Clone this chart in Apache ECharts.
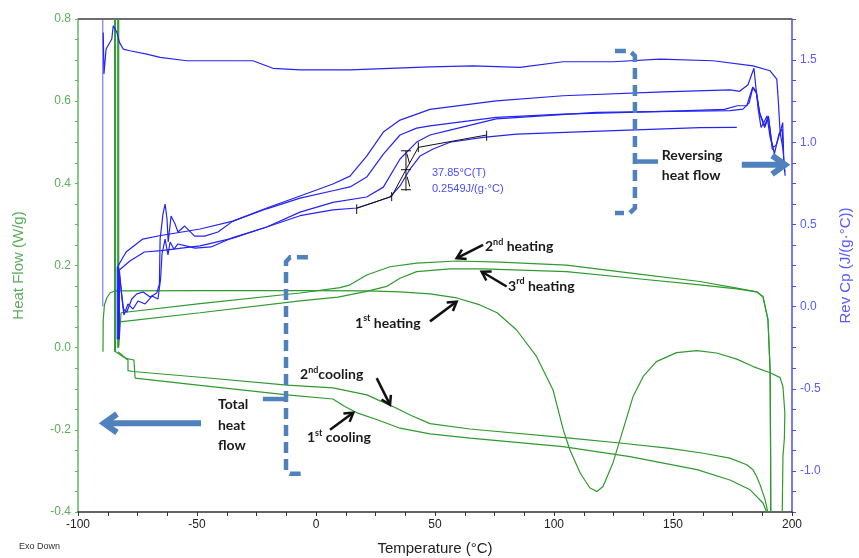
<!DOCTYPE html>
<html><head><meta charset="utf-8">
<script src="https://cdn.jsdelivr.net/npm/echarts@6/dist/echarts.min.js"></script>
<style>html,body{margin:0;padding:0;background:#fff;overflow:hidden}#c{width:859px;height:558px}</style>
</head><body><div id="c"></div>
<script>
// ---------- Heat flow (W/g), left axis: [temperature °C, value] ----------
const HF_1ST_HEATING = [[-89.5,-0.010],[-89.4,0.068],[-88.9,0.104],[-87.9,0.121],[-86.6,0.133],[-84.5,0.138],[-48.7,0.139],[-6.7,0.139],[21.8,0.138],[35.3,0.136],[47.9,0.131],[59.2,0.121],[68.9,0.104],[76.1,0.085],[84.3,0.043],[92.7,-0.022],[99.6,-0.103],[103.9,-0.2],[106.7,-0.249],[111,-0.305],[115,-0.341],[118,-0.350],[120.6,-0.338],[124.8,-0.280],[129,-0.2],[133.2,-0.119],[137.5,-0.070],[143,-0.034],[151.5,-0.012],[160,-0.007],[168.3,-0.013],[176.8,-0.028],[183.7,-0.046],[190.8,-0.061],[195,-0.073],[196.2,-0.095],[197,-0.159],[196.8,-0.22],[196.2,-0.265],[195.9,-0.402],[195.9,-0.45]];
const HF_2ND_HEATING = [[-84.6,-0.010],[-84.6,0.95],[-82.9,0.95],[-82.9,0.0],[-81.9,0.085],[-48.7,0.107],[-6.7,0.133],[10.1,0.146],[14.3,0.153],[21.3,0.177],[31.1,0.197],[42.3,0.206],[59.1,0.211],[77.3,0.208],[105.3,0.201],[133.2,0.181],[161.3,0.161],[176.8,0.145],[185.2,0.136],[187.8,0.124],[189.9,0.068],[190.8,-0.054],[191,-0.249],[191.1,-0.45]];
const HF_3RD_HEATING = [[-84.3,-0.010],[-84.3,0.95],[-83.3,0.95],[-83.3,0.0],[-82.4,0.063],[-48.7,0.085],[-6.7,0.114],[9.2,0.123],[21.3,0.137],[29.7,0.149],[35.3,0.169],[42.3,0.185],[56.3,0.192],[70.2,0.192],[105.3,0.185],[133.2,0.169],[161.3,0.153],[176.8,0.143],[185.2,0.136],[187.8,0.124],[189.9,0.068],[190.8,-0.054],[191,-0.249],[191.1,-0.45]];
const HF_1ST_COOLING = [[189.7,-0.45],[189.5,-0.402],[187.8,-0.378],[182.4,-0.346],[173.9,-0.322],[160.1,-0.297],[131.9,-0.265],[103.8,-0.241],[64.7,-0.220],[47.9,-0.210],[35.3,-0.196],[26,-0.176],[17,-0.158],[12.1,-0.143],[7.1,-0.125],[-12.2,-0.115],[-48.7,-0.092],[-76,-0.074],[-76.5,-0.030],[-76.9,-0.028],[-79.8,-0.026],[-83.2,-0.010]];
const HF_2ND_COOLING = [[190.1,-0.45],[189.9,-0.402],[188.7,-0.370],[186.6,-0.334],[185.2,-0.314],[183.6,-0.297],[181,-0.285],[173.9,-0.269],[162.7,-0.257],[148.7,-0.245],[127.7,-0.232],[106.7,-0.220],[64.7,-0.198],[47.9,-0.185],[40,-0.165],[33,-0.145],[26,-0.127],[21.4,-0.115],[7.1,-0.098],[-12.2,-0.091],[-48.7,-0.072],[-76.9,-0.058],[-79,-0.056],[-79,-0.030],[-79.8,-0.026],[-84.5,-0.009]];

// ---------- Rev Cp (J/(g·°C)), right axis ----------
const CP_1ST_START = [[-89.6,0.0],[-89.6,1.8]];
const CP_1ST_HEATING = [[-89.4,1.668],[-89.1,1.415],[-88.2,1.567],[-87.4,1.579],[-85.8,1.628],[-85.2,1.709],[-84.5,1.719],[-83.7,1.670],[-82.6,1.608],[-81.0,1.567],[-78.2,1.557],[-71.1,1.536],[-65.5,1.516],[-54.3,1.496],[-26.5,1.496],[-18.1,1.450],[-6.7,1.441],[14.3,1.441],[47.9,1.459],[66,1.465],[85.7,1.456],[103.8,1.490],[124.8,1.490],[144.5,1.506],[166.8,1.496],[183.6,1.465],[190.8,1.435],[193.6,1.384],[194.2,1.263],[195,1.062],[196.2,0.959],[197.1,0.796]];
const CP_HEATING_A = [[-83,-0.197],[-83,0.241],[-81.9,0.107],[-80.9,-0.015],[-79.5,-0.033],[-77.4,0.046],[-75.3,0.077],[-72.6,0.089],[-69.7,0.058],[-66.9,0.083],[-65.8,0.137],[-65.5,0.411],[-64.3,0.563],[-63.4,0.624],[-62.6,0.533],[-62.1,0.393],[-60.9,0.551],[-59.2,0.502],[-58,0.454],[-55.2,0.49],[-51,0.429],[-46.8,0.429],[-41.2,0.454],[-34.9,0.52],[-20.7,0.60],[-6.7,0.673],[7.1,0.746],[14.3,0.794],[21.3,0.916],[28.3,1.062],[35.3,1.135],[47.9,1.20],[75.7,1.252],[103.8,1.283],[145.8,1.307],[174,1.319],[178,1.31],[181.5,1.35],[184,1.45],[184.6,1.45],[185.8,1.2],[187,1.09],[188.5,1.13],[189.5,1.16],[190.8,1.03],[192,0.97],[193.3,0.98],[195,1.06],[196.1,1.12],[196.6,0.86],[197,0.82]];
const CP_COOLING_A = [[-83.5,-0.2],[-83.5,0.239],[-79.8,0.332],[-72.8,0.411],[-65.8,0.431],[-48.7,0.472],[-34.9,0.52],[-20.7,0.595],[-6.7,0.66],[7.1,0.705],[14.3,0.728],[21.3,0.788],[28.3,0.928],[35.3,1.044],[42.3,1.086],[47.9,1.10],[75.7,1.151],[103.8,1.171],[150,1.19],[171.6,1.20],[177,1.222],[181,1.222],[183.5,1.336],[185,1.31],[186.4,1.18],[188.5,1.10],[190.1,1.16],[191.7,0.96],[192.5,0.95]];
const CP_HEATING_B = [[-82.6,-0.197],[-82.6,0.217],[-81.5,0.046],[-80.7,-0.051],[-79,0.016],[-76.9,-0.015],[-74.8,0.034],[-71.8,0.016],[-68.9,0.064],[-66.4,0.046],[-65.3,0.168],[-64.7,0.32],[-63.4,0.411],[-62.2,0.314],[-61.3,0.393],[-59.7,0.35],[-58,0.381],[-54.6,0.369],[-50.8,0.356],[-44.1,0.363],[-34.9,0.42],[-20.7,0.484],[-6.7,0.575],[7.1,0.634],[21.3,0.667],[28.3,0.727],[35.3,0.898],[42.3,1.001],[47.9,1.044],[56.3,1.074],[75.7,1.142],[117.8,1.182],[174,1.192],[179.4,1.202],[182,1.24],[183.5,1.33],[185,1.30],[186.5,1.17],[188.5,1.09],[190.1,1.15],[191.5,1.0],[192.6,0.93],[194.5,1.05],[195.8,1.08],[196.4,0.95]];
const CP_COOLING_B = [[-83,-0.2],[-83,0.218],[-78.2,0.277],[-72.1,0.332],[-65.1,0.34],[-48.7,0.369],[-34.9,0.417],[-20.7,0.484],[-6.7,0.553],[7.1,0.588],[17.1,0.60],[24,0.632],[31.1,0.667],[35.3,0.734],[39.5,0.837],[43.7,0.916],[49.2,0.959],[56.3,1.0],[70.2,1.03],[84.3,1.05],[119.3,1.068],[161.3,1.089],[176.8,1.09]];

// ---------- Glass-transition analysis construction (right axis) ----------
const TG_SEGMENTS = [
  [[17.1,0.598],[31.8,0.671],[37.8,0.833],[43,0.969],[71.7,1.044]],
  [[17.1,0.622],[17.1,0.563]],
  [[31.8,0.697],[31.8,0.642]],
  [[71.7,1.070],[71.7,1.009]],
  [[43,1.0],[43,0.94]],
  [[37.8,0.948],[37.8,0.705]],
  [[35.7,0.948],[39.9,0.948]],
  [[35.7,0.833],[39.9,0.833]],
  [[35.7,0.711],[39.9,0.711]],
  [[38.2,0.93],[39.3,0.87]],
  [[38.3,0.79],[39.4,0.73]]
];
const TG_TEXT = ['37.85°C(T)', '0.2549J/(g·°C)'];

// ---------- Axis ticks ----------
const X_LABEL_STEP = 50, HF_LABEL_STEP = 0.2, CP_LABEL_STEP = 0.5;

const GREEN = '#2f9a2f', BLUE = '#2424f2', ANN = '#4f81bd', INK = '#1a1a1a';
const chart = echarts.init(document.getElementById('c'), null, {renderer: 'canvas'});

function ls(data, color, yIdx, w, z) {
  return {type: 'line', data: data, xAxisIndex: 0, yAxisIndex: yIdx, symbol: 'none', showSymbol: false,
    lineStyle: {color: color, width: w || 1.2}, itemStyle: {color: color}, clip: true, silent: true,
    animation: false, z: z || 2, emphasis: {disabled: true}};
}
function fmt(step) {
  return function (v) {
    const k = v / step;
    if (Math.abs(k - Math.round(k)) > 1e-6) return '';
    const r = Math.abs(v) < 1e-9 ? 0 : v;
    return step >= 1 ? String(Math.round(r)) : r.toFixed(1);
  };
}

const series = [
  ls(HF_1ST_HEATING, GREEN, 0), ls(HF_2ND_HEATING, GREEN, 0), ls(HF_3RD_HEATING, GREEN, 0),
  ls(HF_1ST_COOLING, GREEN, 0), ls(HF_2ND_COOLING, GREEN, 0),
  ls(CP_1ST_START, '#7a7aff', 1, 1.2, 3), ls(CP_1ST_HEATING, BLUE, 1, 1.2, 3),
  ls(CP_HEATING_A, BLUE, 1, 1.2, 3), ls(CP_COOLING_A, BLUE, 1, 1.2, 3),
  ls(CP_HEATING_B, BLUE, 1, 1.2, 3), ls(CP_COOLING_B, BLUE, 1, 1.2, 3)
];
TG_SEGMENTS.forEach(s => series.push(ls(s, '#111', 1, 1, 4)));

const lblFont = 'Liberation Sans';
chart.setOption({
  animation: false,
  backgroundColor: '#fff',
  grid: {left: 78, right: 67, top: 19, bottom: 46, containLabel: false, outerBoundsMode: 'none'},
  xAxis: {type: 'value', min: -100, max: 200, interval: 12.5,
    name: 'Temperature (°C)', nameLocation: 'middle', nameGap: 29,
    nameTextStyle: {color: '#222', fontSize: 15, fontFamily: lblFont},
    axisLine: {show: true, onZero: false, lineStyle: {color: '#333', width: 1.5}},
    axisTick: {show: true, length: 4, lineStyle: {color: '#333', width: 1}},
    axisLabel: {color: '#222', fontSize: 12, fontFamily: lblFont, margin: 7, formatter: fmt(X_LABEL_STEP), showMinLabel: true, showMaxLabel: true},
    splitLine: {show: false}},
  yAxis: [
    {type: 'value', min: -0.4, max: 0.8, interval: 0.05, position: 'left',
      name: 'Heat Flow (W/g)', nameLocation: 'middle', nameGap: 52, nameRotate: 90,
      nameTextStyle: {color: '#5aad5a', fontSize: 15, fontFamily: lblFont},
      axisLine: {show: true, onZero: false, lineStyle: {color: '#5cb85c', width: 1.5}},
      axisTick: {show: true, length: 3, lineStyle: {color: '#5cb85c'}},
      axisLabel: {color: '#5aad5a', fontSize: 12, fontFamily: lblFont, margin: 7, formatter: fmt(HF_LABEL_STEP), showMinLabel: true, showMaxLabel: true},
      splitLine: {show: false}},
    {type: 'value', min: -1.25, max: 1.75, interval: 0.125, position: 'right',
      name: 'Rev Cp (J/(g·°C))', nameLocation: 'middle', nameGap: 46, nameRotate: 90,
      nameTextStyle: {color: '#5a5aff', fontSize: 15, fontFamily: lblFont},
      axisLine: {show: true, onZero: false, lineStyle: {color: '#4b4bff', width: 1.5}},
      axisTick: {show: true, length: 4, lineStyle: {color: '#4b4bff'}},
      axisLabel: {color: '#5a5aff', fontSize: 12, fontFamily: lblFont, margin: 8, formatter: fmt(CP_LABEL_STEP), showMinLabel: true, showMaxLabel: true},
      splitLine: {show: false}}
  ],
  series: series
});

// ---------- Annotations, positioned in data units (T, heat flow) ----------
const P = (t, v) => chart.convertToPixel({xAxisIndex: 0, yAxisIndex: 0}, [t, v]);
const BRACKET_TOTAL = [[-3.4,0.220],[-10.9,0.220],[-12.6,0.209],[-12.6,-0.302],[-10.9,-0.307],[-4.6,-0.307]];
const STUB_TOTAL = [[-22.3,-0.125],[-12.6,-0.125]];
const BRACKET_REV = [[125.6,0.722],[131.9,0.722],[134,0.710],[134,0.340],[131.9,0.328],[125.6,0.328]];
const STUB_REV = [[134.9,0.453],[143.7,0.453]];
const ARROW_TOTAL = [[-48.3,-0.184],[-89.1,-0.184]];
const ARROW_REV = [[178.9,0.445],[197.1,0.445]];
const LABEL_ARROWS = [
  [[70.2,0.250],[59.1,0.218]],
  [[80.1,0.149],[69.6,0.185]],
  [[47.9,0.064],[59.1,0.112]],
  [[25.5,-0.074],[31.1,-0.139]],
  [[5.9,-0.200],[15.7,-0.158]]
];

const g = [];
const pts = arr => arr.map(p => P(p[0], p[1]));
const tl = P(-100, 0.8), tr = P(200, 0.8);
g.push({type: 'line', shape: {x1: tl[0], y1: tl[1], x2: tr[0], y2: tr[1]}, style: {stroke: '#6e6e6e', lineWidth: 2}, z: 50});

function dashed(arr) {
  g.push({type: 'polyline', shape: {points: pts(arr)}, style: {stroke: ANN, lineWidth: 4.5, fill: null, lineDash: [11, 6]}, z: 60});
}
function solid(arr, w) {
  g.push({type: 'polyline', shape: {points: pts(arr)}, style: {stroke: ANN, lineWidth: w, fill: null}, z: 60});
}
dashed(BRACKET_TOTAL); solid(STUB_TOTAL, 4.5);
dashed(BRACKET_REV); solid(STUB_REV, 4.5);

function arrow(tailD, tipD, color, w, head, ang) {
  const a = P(tailD[0], tailD[1]), b = P(tipD[0], tipD[1]);
  const dx = b[0] - a[0], dy = b[1] - a[1], L = Math.hypot(dx, dy);
  const bx = -dx / L, by = -dy / L, c = Math.cos(ang), s = Math.sin(ang);
  const l = [b[0] + head * (bx * c - by * s), b[1] + head * (bx * s + by * c)];
  const r = [b[0] + head * (bx * c + by * s), b[1] + head * (-bx * s + by * c)];
  g.push({type: 'polyline', shape: {points: [a, [b[0] + bx * w * 0.3, b[1] + by * w * 0.3]]}, style: {stroke: color, lineWidth: w, fill: null}, z: 70});
  g.push({type: 'polyline', shape: {points: [l, b, r]}, style: {stroke: color, lineWidth: w, fill: null, lineJoin: 'miter', lineCap: 'butt'}, z: 70});
}
arrow(ARROW_TOTAL[0], ARROW_TOTAL[1], ANN, 6, 16, 0.62);
arrow(ARROW_REV[0], ARROW_REV[1], ANN, 6, 16, 0.62);
LABEL_ARROWS.forEach(a => arrow(a[0], a[1], '#111', 2.5, 10, 0.55));

const TF = 'Lato, "Open Sans", sans-serif';
const rich = {
  n: {fontSize: 14, fontFamily: TF, fontWeight: 'bold', fill: INK, lineHeight: 18},
  s: {fontSize: 9, fontFamily: TF, fontWeight: 'bold', fill: INK, lineHeight: 10, verticalAlign: 'top'}
};
function label(t, v, text) {
  const p = P(t, v);
  g.push({type: 'text', x: p[0], y: p[1], z: 80, style: {text: text, rich: rich, align: 'left', verticalAlign: 'middle',
    fontSize: 14, fontFamily: TF, fontWeight: 'bold', fill: INK}});
}
label(71, 0.246, '{n|2}{s|nd}{n| heating}');
label(80.7, 0.150, '{n|3}{s|rd}{n| heating}');
label(16.4, 0.060, '{n|1}{s|st}{n| heating}');
label(-6.7, -0.066, '{n|2}{s|nd}{n|cooling}');
label(-3.8, -0.219, '{n|1}{s|st}{n| cooling}');
label(-41.2, -0.139, '{n|Total}');
label(-41.2, -0.190, '{n|heat}');
label(-41.2, -0.238, '{n|flow}');
label(145.3, 0.467, '{n|Reversing}');
label(145.3, 0.418, '{n|heat flow}');

const t1 = P(48.7, 0.425), t2 = P(48.7, 0.386);
g.push({type: 'text', x: t1[0], y: t1[1], z: 80, style: {text: TG_TEXT[0], fontSize: 11, fontFamily: lblFont, fill: '#4b4bff', verticalAlign: 'middle', align: 'left'}});
g.push({type: 'text', x: t2[0], y: t2[1], z: 80, style: {text: TG_TEXT[1], fontSize: 11, fontFamily: lblFont, fill: '#4b4bff', verticalAlign: 'middle', align: 'left'}});

const bl = P(-100, -0.4);
g.push({type: 'text', x: bl[0] - 59, y: bl[1] + 35, z: 80, style: {text: 'Exo Down', fontSize: 9, fontFamily: lblFont, fill: '#333', verticalAlign: 'middle', align: 'left'}});

chart.setOption({graphic: g});
</script>
</body></html>
